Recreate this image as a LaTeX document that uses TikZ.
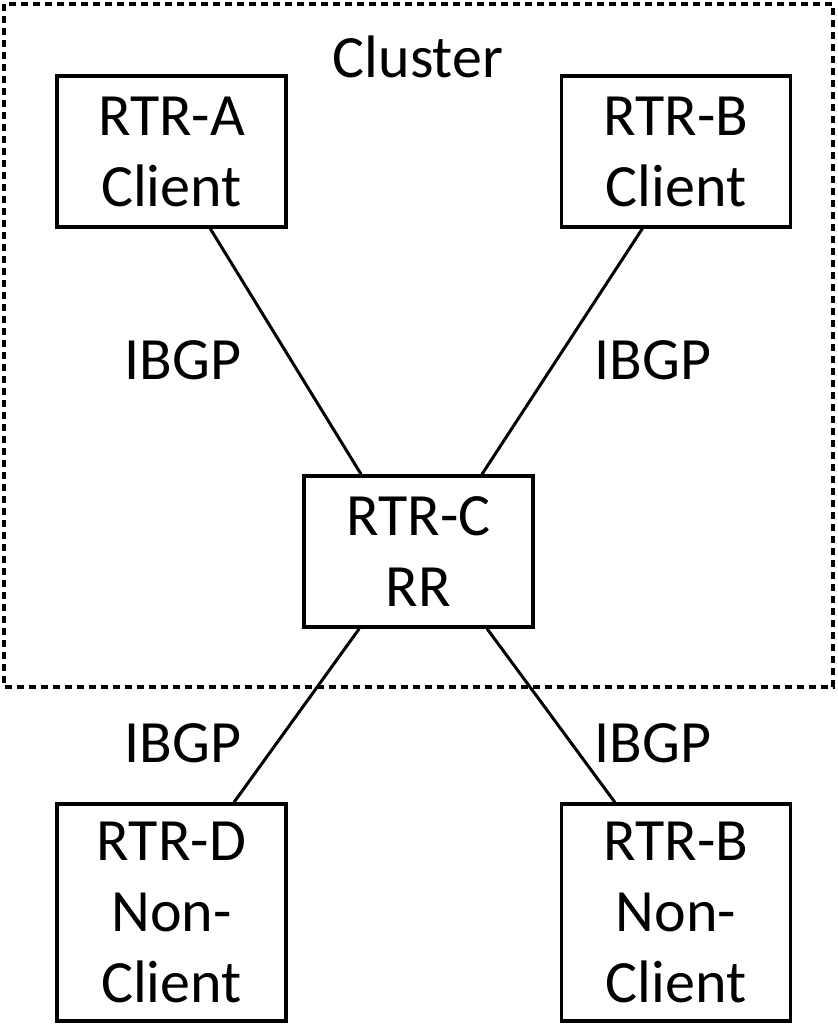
\documentclass[tikz,border=0pt]{standalone}
\usepackage{fontspec}
\setmainfont{Carlito}
\usetikzlibrary{calc}
\tikzset{rtr box/.style={
  draw,
  line width=3.5pt,
  minimum width=229pt,
  inner sep=0pt,
  align=center,
  font=\fontsize{60}{71}\selectfont
  },
  peer line/.style={line width=3pt},
  ibgp label/.style={font=\fontsize{60}{71}\selectfont, inner sep=0pt}
}

\begin{document}
\begin{tikzpicture}[x=1pt,y=-1pt]
    \useasboundingbox (0,0) rectangle (838,1026);
    \draw[line width=3.5pt, dash pattern=on 7pt off 5pt] (4,4) rectangle (833,687);
    \node[ibgp label] (cluster) at (418,57) {Cluster};

    \node[rtr box,minimum height=151pt] (A) at (171.5,151.5) {RTR-A\\Client};
    \node[rtr box,minimum height=151pt] (B) at (676,151.5) {RTR-B\\Client};
    \node[rtr box,minimum height=151pt] (C) at (418.5,551.5) {RTR-C\\RR};
    \node[rtr box,minimum height=217pt] (D) at (171.5,912.5) {RTR-D\\Non-\\Client};
    \node[rtr box,minimum height=217pt] (E) at (676,912.5) {RTR-B\\Non-\\Client};

    \draw[peer line] ($(A.south west)!0.667!(A.south east)$) -- ($(C.north west)!0.253!(C.north east)$);
    \draw[peer line] ($(B.south west)!0.355!(B.south east)$) -- ($(C.north west)!0.773!(C.north east)$);
    \draw[peer line] ($(C.south west)!0.245!(C.south east)$) -- ($(D.north west)!0.769!(D.north east)$);
    \draw[peer line] ($(C.south west)!0.795!(C.south east)$) -- ($(E.north west)!0.237!(E.north east)$);

    \node[ibgp label] (L1) at (183,360) {IBGP};
    \node[ibgp label] (L2) at (653,360) {IBGP};
    \node[ibgp label] (L3) at (183,743) {IBGP};
    \node[ibgp label] (L4) at (653,743) {IBGP};
\end{tikzpicture}
\end{document}
